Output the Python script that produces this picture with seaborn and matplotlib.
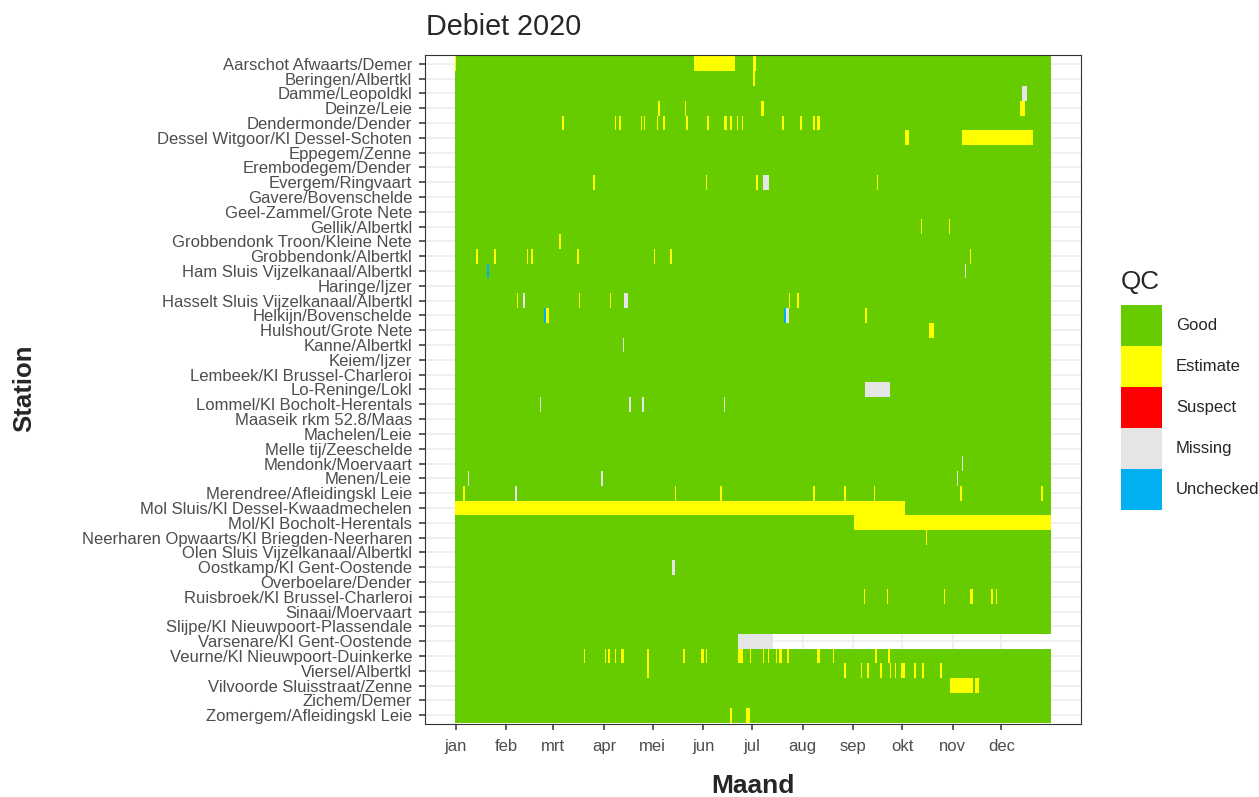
import numpy as np
import pandas as pd
import matplotlib
matplotlib.use("Agg")
import matplotlib.pyplot as plt
from matplotlib.colors import ListedColormap
from matplotlib.patches import Patch
import seaborn as sns

# ---- data -------------------------------------------------------------------
stations = [
    "Aarschot Afwaarts/Demer", "Beringen/Albertkl", "Damme/Leopoldkl", "Deinze/Leie",
    "Dendermonde/Dender", "Dessel Witgoor/Kl Dessel-Schoten", "Eppegem/Zenne",
    "Erembodegem/Dender", "Evergem/Ringvaart", "Gavere/Bovenschelde",
    "Geel-Zammel/Grote Nete", "Gellik/Albertkl", "Grobbendonk Troon/Kleine Nete",
    "Grobbendonk/Albertkl", "Ham Sluis Vijzelkanaal/Albertkl", "Haringe/Ijzer",
    "Hasselt Sluis Vijzelkanaal/Albertkl", "Helkijn/Bovenschelde", "Hulshout/Grote Nete",
    "Kanne/Albertkl", "Keiem/Ijzer", "Lembeek/Kl Brussel-Charleroi", "Lo-Reninge/Lokl",
    "Lommel/Kl Bocholt-Herentals", "Maaseik rkm 52.8/Maas", "Machelen/Leie",
    "Melle tij/Zeeschelde", "Mendonk/Moervaart", "Menen/Leie",
    "Merendree/Afleidingskl Leie", "Mol Sluis/Kl Dessel-Kwaadmechelen",
    "Mol/Kl Bocholt-Herentals", "Neerharen Opwaarts/Kl Briegden-Neerharen",
    "Olen Sluis Vijzelkanaal/Albertkl", "Oostkamp/Kl Gent-Oostende", "Overboelare/Dender",
    "Ruisbroek/Kl Brussel-Charleroi", "Sinaai/Moervaart", "Slijpe/Kl Nieuwpoort-Plassendale",
    "Varsenare/Kl Gent-Oostende", "Veurne/Kl Nieuwpoort-Duinkerke", "Viersel/Albertkl",
    "Vilvoorde Sluisstraat/Zenne", "Zichem/Demer", "Zomergem/Afleidingskl Leie",
]
months = ["jan", "feb", "mrt", "apr", "mei", "jun", "jul", "aug", "sep", "okt", "nov", "dec"]
qc_levels = ["Good", "Estimate", "Suspect", "Missing", "Unchecked"]
qc_colors = ["#66CC00", "#FFFF00", "#FF0000", "#E5E5E5", "#00B0F0"]

# Flagged days per station (day of year 2020; a tuple is an inclusive range).
# Every day not listed is "Good".
estimate = {
    "Aarschot Afwaarts/Demer": [1, (148, 172), (184, 185)],
    "Beringen/Albertkl": [184],
    "Deinze/Leie": [126, 142, (189, 190), (348, 350)],
    "Dendermonde/Dender": [67, 99, 102, 115, 117, 125, 129, 143, 156, 166, 167, 170,
                           174, 177, 202, 213, 221, 223, 224],
    "Dessel Witgoor/Kl Dessel-Schoten": [(277, 279), (312, 355)],
    "Evergem/Ringvaart": [86, 155, 186, 260],
    "Gellik/Albertkl": [287, 304],
    "Grobbendonk Troon/Kleine Nete": [65],
    "Grobbendonk/Albertkl": [14, 25, 45, 48, 76, 123, 133, 317],
    "Hasselt Sluis Vijzelkanaal/Albertkl": [39, 77, 96, 206, 211],
    "Helkijn/Bovenschelde": [(57, 58), 253],
    "Hulshout/Grote Nete": [(292, 294)],
    "Merendree/Afleidingskl Leie": [6, 136, 164, 221, 240, 258, 311, 361],
    "Mol Sluis/Kl Dessel-Kwaadmechelen": [(1, 276)],
    "Mol/Kl Bocholt-Herentals": [(246, 366)],
    "Neerharen Opwaarts/Kl Briegden-Neerharen": [290],
    "Ruisbroek/Kl Brussel-Charleroi": [252, 266, 301, (317, 318), 330, 333],
    "Veurne/Kl Nieuwpoort-Duinkerke": [80, 93, 95, 99, 103, 104, 119, 141, 152, 153, 155,
                                       175, 176, 177, 182, 190, 193, 198, 200, 201, 205,
                                       223, 224, 233, 259, 267],
    "Viersel/Albertkl": [119, 240, 250, 254, 262, 268, 271, 275, 276, 283, 288, 299],
    "Vilvoorde Sluisstraat/Zenne": [(305, 318), (320, 322)],
    "Zomergem/Afleidingskl Leie": [170, (180, 181)],
}
missing = {
    "Damme/Leopoldkl": [(349, 351)],
    "Evergem/Ringvaart": [(190, 193)],
    "Ham Sluis Vijzelkanaal/Albertkl": [314],
    "Hasselt Sluis Vijzelkanaal/Albertkl": [43, (105, 106)],
    "Helkijn/Bovenschelde": [(204, 205)],
    "Kanne/Albertkl": [104],
    "Lo-Reninge/Lokl": [(253, 267)],
    "Lommel/Kl Bocholt-Herentals": [53, 108, 116, 166],
    "Mendonk/Moervaart": [312],
    "Menen/Leie": [9, 91, 309],
    "Merendree/Afleidingskl Leie": [38],
    "Oostkamp/Kl Gent-Oostende": [(134, 135)],
    "Varsenare/Kl Gent-Oostende": [(175, 195)],
}
unchecked = {
    "Ham Sluis Vijzelkanaal/Albertkl": [21],
    "Helkijn/Bovenschelde": [56, 203],
}
# Last day with a record (no data afterwards)
record_end = {"Varsenare/Kl Gent-Oostende": 195}

# ---- station x day grid of QC codes -------------------------------------------
days = pd.date_range("2020-01-01", "2020-12-31", freq="D")
codes = pd.DataFrame(0.0, index=stations, columns=days)


def apply_flags(table, code):
    for station, items in table.items():
        row = stations.index(station)
        for item in items:
            first, last = (item, item) if isinstance(item, int) else item
            codes.iloc[row, first - 1:last] = code


apply_flags(estimate, qc_levels.index("Estimate"))
apply_flags(missing, qc_levels.index("Missing"))
apply_flags(unchecked, qc_levels.index("Unchecked"))
for station, last in record_end.items():
    codes.iloc[stations.index(station), last:] = np.nan

# ---- figure -------------------------------------------------------------------
sns.set_style("white")
plt.rcParams["font.family"] = ["Liberation Sans", "DejaVu Sans"]

W, H = 1259, 797
fig = plt.figure(figsize=(W / 100, H / 100), dpi=100)
ax = fig.add_axes([425 / W, 1 - 724 / H, (1081 - 425) / W, (724 - 55) / H])

sns.heatmap(codes, cmap=ListedColormap(qc_colors), vmin=-0.5, vmax=4.5, cbar=False,
            ax=ax, xticklabels=False, yticklabels=False)

n_days = len(days)
pad_x = 0.05 * n_days
ax.set_xlim(-pad_x, n_days + pad_x)
ax.set_ylim(len(stations) + 0.1, -0.1)

month_pos = [days.get_loc(pd.Timestamp(2020, m, 1)) + 0.5 for m in range(1, 13)]
ax.set_xticks(month_pos)
ax.set_xticklabels(months, rotation=0)
ax.set_yticks(np.arange(len(stations)) + 0.5)
ax.set_yticklabels(stations, rotation=0, va="center_baseline")
ax.set_xlabel("")
ax.set_ylabel("")

ax.set_axisbelow(True)
ax.grid(True, color="#EBEBEB", linewidth=1.1)
for sp in ax.spines.values():
    sp.set_visible(True)
    sp.set_color("#333333")
    sp.set_linewidth(0.8)
ax.tick_params(axis="both", length=4.3, width=1.1, color="#333333",
               labelcolor="#4D4D4D", labelsize=12)
ax.tick_params(axis="x", pad=6.5, bottom=True)
ax.tick_params(axis="y", pad=5, left=True)

fig.text(426 / W, 1 - 27 / H, "Debiet 2020", fontsize=20.7, va="center", ha="left")
fig.text(753 / W, 1 - 786 / H, "Maand", fontsize=19, fontweight="bold",
         ha="center", va="center")
fig.text(24 / W, 1 - 388 / H, "Station", fontsize=18.5, fontweight="bold",
         rotation=90, ha="center", va="center")

# legend
fig.text(1121 / W, 1 - 282 / H, "QC", fontsize=18.7, ha="left", va="center")
handles = [Patch(facecolor=c, edgecolor="none") for c in qc_colors]
fig.legend(handles, qc_levels, loc="upper left",
           bbox_to_anchor=(1121 / W, 1 - 305 / H), bbox_transform=fig.transFigure,
           frameon=False, fontsize=12, handlelength=2.46, handleheight=3.41,
           labelspacing=0, handletextpad=0.84, borderpad=0, borderaxespad=0)

fig.savefig("out.png", dpi=100)
